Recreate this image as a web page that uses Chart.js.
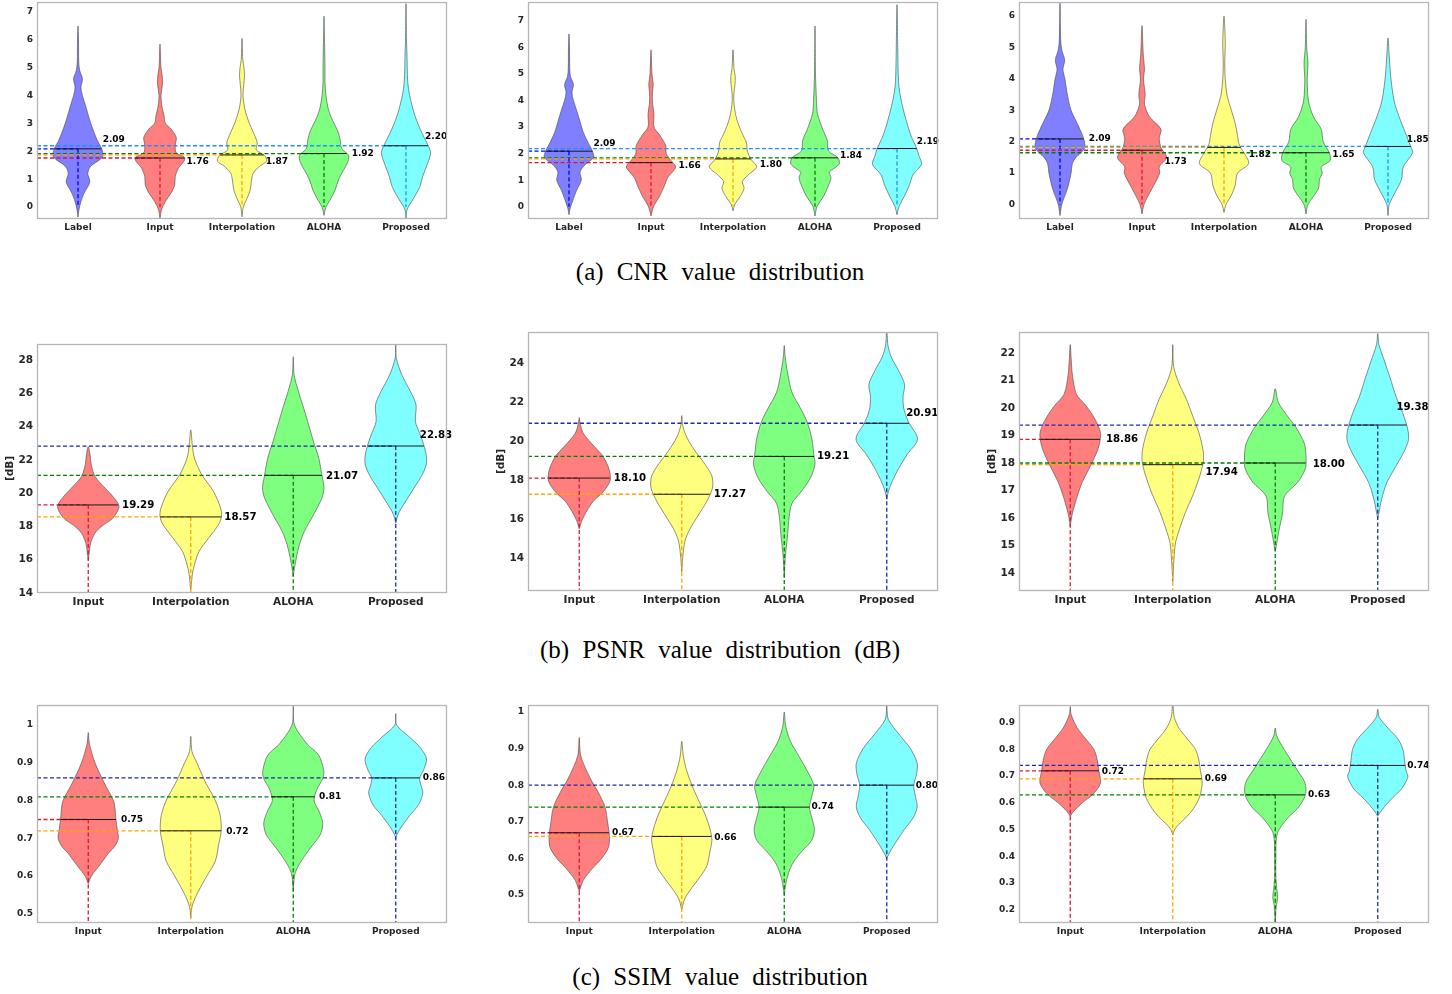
<!DOCTYPE html>
<html>
<head>
<meta charset="utf-8">
<script src="https://cdn.jsdelivr.net/npm/chart.js@4.4.1/dist/chart.umd.min.js"></script>
<style>
    html, body { margin: 0; padding: 0; background: #fff; width: 1452px; height: 994px; overflow: hidden; position: relative; }
    canvas { position: absolute; }
    .cap { position: absolute; left: 0; width: 1440px; text-align: center; font-family: "Liberation Serif", "Times New Roman", serif;
           font-size: 25px; line-height: 25px; word-spacing: 7px; color: #000; }
</style>
</head>
<body>
<div class="cap" style="top:259px">(a) CNR value distribution</div>
<div class="cap" style="top:637px">(b) PSNR value distribution (dB)</div>
<div class="cap" style="top:964px">(c) SSIM value distribution</div>
<script>
// categories
const cnrCats = ["Label", "Input", "Interpolation", "ALOHA", "Proposed"];
const qCats = ["Input", "Interpolation", "ALOHA", "Proposed"];

// medians (printed next to each violin)
const cnrMedA = [2.09, 1.76, 1.87, 1.92, 2.20];
const cnrMedB = [2.09, 1.66, 1.80, 1.84, 2.19];
const cnrMedC = [2.09, 1.73, 1.82, 1.65, 1.85];
const psnrMedA = [19.29, 18.57, 21.07, 22.83];
const psnrMedB = [18.10, 17.27, 19.21, 20.91];
const psnrMedC = [18.86, 17.94, 18.00, 19.38];
const ssimMedA = [0.75, 0.72, 0.81, 0.86];
const ssimMedB = [0.67, 0.66, 0.74, 0.80];
const ssimMedC = [0.72, 0.69, 0.63, 0.74];

// y tick labels
const cnrTicksA = [0, 1, 2, 3, 4, 5, 6, 7];
const cnrTicksB = [0, 1, 2, 3, 4, 5, 6, 7];
const cnrTicksC = [0, 1, 2, 3, 4, 5, 6];
const psnrTicksA = [14, 16, 18, 20, 22, 24, 26, 28];
const psnrTicksB = [14, 16, 18, 20, 22, 24];
const psnrTicksC = [14, 15, 16, 17, 18, 19, 20, 21, 22];
const ssimTicksA = [0.5, 0.6, 0.7, 0.8, 0.9, 1];
const ssimTicksB = [0.5, 0.6, 0.7, 0.8, 0.9, 1];
const ssimTicksC = [0.2, 0.3, 0.4, 0.5, 0.6, 0.7, 0.8, 0.9];

// violin profiles: [value, relative density width] from bottom tip to top tip
const cnrViolinsA = [
    [[-0.36,0],[-0.1,0.04],[0.2,0.12],[0.5,0.25],[0.9,0.48],[1.2,0.4],[1.45,0.5],[1.8,1.0],[2.1,0.96],[2.4,0.78],[2.8,0.6],[3.2,0.45],[3.6,0.32],[4.0,0.18],[4.3,0.12],[4.6,0.18],[4.9,0.07],[5.2,0.03],[6.0,0.02],[6.5,0]],
    [[-0.42,0],[-0.1,0.06],[0.2,0.22],[0.5,0.45],[0.8,0.6],[1.1,0.62],[1.4,0.75],[1.65,0.98],[1.78,1.0],[1.95,0.66],[2.2,0.62],[2.5,0.66],[2.8,0.45],[3.0,0.22],[3.3,0.16],[3.6,0.08],[4.0,0.04],[4.4,0.1],[4.7,0.09],[5.0,0.04],[5.4,0.02],[5.85,0]],
    [[-0.35,0],[0,0.05],[0.3,0.2],[0.6,0.33],[0.9,0.38],[1.2,0.45],[1.45,0.7],[1.65,1.0],[1.85,0.92],[2.05,0.58],[2.3,0.62],[2.6,0.5],[3.0,0.3],[3.5,0.12],[4.0,0.04],[4.4,0.07],[4.7,0.1],[5.0,0.08],[5.3,0.03],[6.05,0]],
    [[-0.3,0],[0,0.08],[0.3,0.28],[0.6,0.45],[1.0,0.6],[1.3,0.78],[1.6,0.96],[1.85,1.0],[2.1,0.72],[2.4,0.66],[2.75,0.55],[3.1,0.35],[3.5,0.18],[4.0,0.08],[4.5,0.04],[5.0,0.04],[5.6,0.03],[6.2,0.015],[6.85,0]],
    [[-0.42,0],[-0.1,0.04],[0.3,0.3],[0.7,0.55],[1.1,0.68],[1.5,0.85],[1.95,1.0],[2.3,0.85],[2.6,0.68],[3.0,0.48],[3.4,0.32],[4.0,0.15],[4.5,0.07],[5.0,0.05],[5.5,0.04],[6.0,0.02],[7.3,0]]
];
const cnrViolinsB = [
    [[-0.3,0],[-0.05,0.05],[0.3,0.18],[0.6,0.3],[1.0,0.5],[1.3,0.45],[1.55,0.62],[1.85,1.0],[2.1,0.95],[2.4,0.78],[2.8,0.58],[3.2,0.45],[3.6,0.32],[4.0,0.18],[4.3,0.12],[4.6,0.18],[4.9,0.06],[5.2,0.03],[6.0,0.02],[6.5,0]],
    [[-0.35,0],[0,0.1],[0.4,0.35],[0.8,0.55],[1.1,0.68],[1.5,1.0],[1.75,0.8],[2.0,0.62],[2.3,0.6],[2.7,0.35],[3.0,0.12],[3.5,0.12],[3.9,0.06],[4.3,0.06],[4.6,0.09],[5.0,0.04],[5.9,0]],
    [[-0.15,0],[0.1,0.08],[0.4,0.3],[0.7,0.45],[0.95,0.38],[1.2,0.62],[1.5,0.96],[1.8,0.72],[2.1,0.58],[2.4,0.55],[2.8,0.35],[3.3,0.15],[3.8,0.05],[4.2,0.03],[4.6,0.08],[4.9,0.09],[5.2,0.04],[5.9,0]],
    [[-0.35,0],[0,0.08],[0.4,0.35],[0.8,0.55],[1.1,0.65],[1.3,0.58],[1.6,0.98],[1.85,0.93],[2.1,0.55],[2.5,0.5],[2.9,0.32],[3.5,0.1],[4.0,0.06],[5.0,0.02],[6.8,0]],
    [[-0.3,0],[0,0.08],[0.4,0.3],[0.8,0.5],[1.2,0.65],[1.6,1.0],[1.9,0.9],[2.2,0.8],[2.6,0.6],[3.0,0.45],[3.5,0.3],[4.0,0.17],[4.5,0.08],[5.0,0.05],[6.0,0.03],[7.6,0]]
];
const cnrViolinsC = [
    [[-0.35,0],[0,0.07],[0.5,0.3],[1.0,0.45],[1.3,0.5],[1.5,0.65],[1.8,1.0],[2.1,0.96],[2.5,0.75],[3.0,0.45],[3.5,0.3],[4.0,0.2],[4.3,0.12],[4.6,0.19],[4.9,0.08],[5.2,0.03],[6.45,0]],
    [[-0.3,0],[0,0.08],[0.5,0.4],[1.0,0.72],[1.2,0.7],[1.5,1.0],[1.8,0.78],[2.1,0.7],[2.4,0.77],[2.8,0.3],[3.2,0.1],[3.5,0.13],[4.0,0.06],[4.3,0.1],[4.8,0.05],[5.7,0]],
    [[-0.25,0],[0,0.08],[0.3,0.3],[0.6,0.45],[1.0,0.55],[1.3,1.0],[1.6,0.85],[1.9,0.62],[2.2,0.55],[2.6,0.45],[3.0,0.3],[3.5,0.12],[4.0,0.05],[4.5,0.03],[5.2,0.05],[6.0,0]],
    [[-0.3,0],[0,0.08],[0.5,0.5],[0.8,0.55],[1.0,0.66],[1.2,0.62],[1.4,0.98],[1.65,0.95],[2.0,0.7],[2.4,0.62],[2.8,0.3],[3.3,0.1],[4.0,0.05],[4.5,0.08],[5.0,0.03],[5.9,0]],
    [[-0.35,0],[0,0.05],[0.4,0.3],[0.8,0.55],[1.2,0.62],[1.65,1.0],[1.85,0.92],[2.3,0.7],[2.8,0.45],[3.3,0.25],[4.0,0.12],[4.6,0.06],[5.3,0]]
];
const psnrViolinsA = [
    [[16.0,0],[16.4,0.03],[17.0,0.08],[17.6,0.22],[18.0,0.43],[18.5,0.8],[19.2,1.0],[19.8,0.8],[20.4,0.5],[21.0,0.22],[21.7,0.1],[22.3,0.06],[22.8,0]],
    [[14.2,0],[14.5,0.02],[15.1,0.05],[15.7,0.12],[16.5,0.27],[17.3,0.58],[18.1,0.9],[18.6,1.0],[19.1,0.97],[20.1,0.74],[21.1,0.36],[22.1,0.12],[22.9,0.05],[23.8,0]],
    [[15.0,0],[15.5,0.04],[16.1,0.1],[16.9,0.2],[17.7,0.36],[18.7,0.66],[19.7,0.93],[20.3,1.0],[21.1,0.93],[22.1,0.83],[23.1,0.66],[24.1,0.5],[25.1,0.34],[26.1,0.17],[27.1,0.03],[28.2,0]],
    [[18.2,0],[18.5,0.04],[18.9,0.12],[19.5,0.32],[20.3,0.59],[21.1,0.86],[21.8,1.0],[22.5,0.97],[23.5,0.8],[24.3,0.64],[25.3,0.66],[26.1,0.48],[27.1,0.2],[28.1,0.02],[28.9,0]]
];
const psnrViolinsB = [
    [[15.5,0],[15.9,0.08],[16.4,0.24],[16.9,0.45],[17.4,0.78],[17.95,1.0],[18.5,0.98],[19.2,0.78],[19.7,0.5],[20.4,0.13],[20.9,0.03],[21.2,0]],
    [[13.3,0],[14.0,0.03],[14.9,0.11],[15.5,0.27],[16.2,0.54],[16.9,0.81],[17.6,1.0],[18.2,0.98],[18.8,0.76],[19.5,0.43],[20.2,0.16],[20.8,0.03],[21.3,0]],
    [[13.0,0],[13.7,0.02],[14.3,0.05],[15.2,0.11],[16.1,0.16],[16.8,0.25],[17.4,0.55],[18.1,0.85],[18.8,1.0],[19.3,0.96],[20.1,0.9],[21.0,0.74],[21.7,0.52],[22.5,0.25],[23.4,0.12],[24.3,0.03],[24.9,0]],
    [[17.0,0],[17.4,0.05],[17.9,0.17],[18.6,0.39],[19.3,0.66],[20.1,1.0],[21.0,0.7],[21.7,0.55],[22.3,0.53],[22.9,0.58],[23.6,0.39],[24.3,0.15],[24.9,0.04],[25.7,0]]
];
const psnrViolinsC = [
    [[15.7,0],[16.0,0.04],[16.3,0.1],[16.8,0.23],[17.3,0.39],[17.9,0.66],[18.5,0.9],[19.0,0.99],[19.3,0.93],[19.7,0.75],[20.1,0.5],[20.5,0.2],[21.2,0.07],[21.8,0.03],[22.3,0]],
    [[13.7,0],[14.5,0.04],[15.1,0.09],[15.6,0.22],[16.2,0.41],[16.9,0.68],[17.6,0.9],[18.1,1.0],[18.5,0.98],[19.1,0.85],[19.7,0.65],[20.3,0.45],[20.9,0.2],[21.5,0.03],[22.3,0]],
    [[14.8,0],[15.1,0.05],[15.6,0.13],[16.2,0.24],[16.8,0.3],[17.3,0.73],[17.8,0.98],[18.2,1.0],[18.7,0.95],[19.3,0.67],[19.7,0.4],[20.2,0.1],[20.7,0]],
    [[16.0,0],[16.2,0.04],[16.7,0.13],[17.3,0.3],[17.9,0.6],[18.45,0.87],[18.85,1.0],[19.2,0.98],[19.8,0.82],[20.4,0.6],[21.1,0.4],[21.7,0.22],[22.3,0.04],[22.7,0]]
];
const ssimViolinsA = [
    [[0.58,0],[0.60,0.1],[0.63,0.38],[0.66,0.65],[0.68,0.87],[0.70,0.98],[0.72,0.95],[0.75,0.9],[0.78,0.87],[0.80,0.82],[0.85,0.5],[0.90,0.22],[0.95,0.04],[0.98,0]],
    [[0.49,0],[0.51,0.02],[0.53,0.08],[0.56,0.25],[0.60,0.52],[0.64,0.8],[0.68,0.9],[0.72,0.99],[0.76,0.96],[0.80,0.8],[0.85,0.47],[0.90,0.2],[0.93,0.04],[0.97,0]],
    [[0.56,0],[0.60,0.04],[0.62,0.12],[0.65,0.34],[0.68,0.61],[0.71,0.88],[0.74,0.96],[0.77,0.85],[0.80,0.68],[0.83,0.77],[0.86,0.97],[0.88,0.99],[0.92,0.83],[0.95,0.45],[1.0,0.04],[1.05,0]],
    [[0.70,0],[0.71,0.04],[0.73,0.18],[0.76,0.45],[0.79,0.75],[0.82,0.88],[0.84,0.82],[0.86,0.78],[0.88,0.9],[0.91,1.0],[0.94,0.8],[0.97,0.42],[1.0,0.03],[1.03,0]]
];
const ssimViolinsB = [
    [[0.51,0],[0.52,0.04],[0.54,0.13],[0.57,0.4],[0.60,0.73],[0.63,0.95],[0.66,0.98],[0.70,0.92],[0.74,0.84],[0.78,0.62],[0.82,0.35],[0.88,0.05],[0.93,0]],
    [[0.46,0],[0.49,0.1],[0.52,0.33],[0.55,0.6],[0.58,0.82],[0.62,0.92],[0.65,0.98],[0.68,0.92],[0.72,0.76],[0.76,0.54],[0.80,0.33],[0.84,0.16],[0.88,0.05],[0.92,0]],
    [[0.50,0],[0.53,0.05],[0.56,0.14],[0.59,0.3],[0.62,0.58],[0.65,0.9],[0.68,0.98],[0.71,0.9],[0.74,0.82],[0.77,0.9],[0.80,0.96],[0.84,0.74],[0.88,0.47],[0.92,0.2],[0.96,0.05],[1.0,0]],
    [[0.60,0],[0.62,0.12],[0.65,0.34],[0.68,0.58],[0.71,0.85],[0.74,0.99],[0.77,0.93],[0.80,0.88],[0.83,0.97],[0.86,0.99],[0.90,0.77],[0.94,0.39],[0.98,0.05],[1.02,0]]
];
const ssimViolinsC = [
    [[0.55,0],[0.57,0.12],[0.60,0.39],[0.63,0.72],[0.66,0.93],[0.68,0.99],[0.72,0.93],[0.76,0.88],[0.80,0.77],[0.84,0.5],[0.88,0.23],[0.93,0.03],[0.96,0]],
    [[0.48,0],[0.50,0.06],[0.52,0.2],[0.55,0.47],[0.58,0.68],[0.62,0.87],[0.65,0.93],[0.68,0.96],[0.72,0.9],[0.76,0.85],[0.80,0.74],[0.84,0.47],[0.88,0.2],[0.92,0.05],[0.97,0]],
    [[0.15,0],[0.18,0.01],[0.22,0.04],[0.245,0.08],[0.28,0.05],[0.32,0.02],[0.40,0.02],[0.46,0.03],[0.49,0.08],[0.52,0.24],[0.55,0.46],[0.58,0.73],[0.62,0.95],[0.65,1.0],[0.68,0.95],[0.72,0.73],[0.76,0.51],[0.80,0.29],[0.85,0.05],[0.88,0]],
    [[0.55,0],[0.56,0.05],[0.59,0.25],[0.62,0.49],[0.65,0.76],[0.68,0.92],[0.70,0.98],[0.72,0.92],[0.76,0.87],[0.80,0.82],[0.84,0.65],[0.88,0.33],[0.92,0.05],[0.95,0]]
];

// styling
const HALF = 0.3;   // half width of the widest part of a violin, in category units
const fillColors = { Label: "rgba(0,0,255,0.5)", Input: "rgba(255,0,0,0.5)", Interpolation: "rgba(255,255,0,0.5)", ALOHA: "rgba(0,255,0,0.5)", Proposed: "rgba(0,255,255,0.5)" };
const lineColors = { Label: "#0000ff", Input: "#dc143c", Interpolation: "#ffa500", ALOHA: "#008000", Proposed: "#1e2aa8" };
const TICK_COLOR = "#262626";

const panels = [
    { violins: cnrViolinsA, med: cnrMedA, cats: cnrCats, ticks: cnrTicksA, box: [37, 2, 447, 219], yr: [-0.43, 7.36], vb: 0, fs: 9, vs: 9, proposed: "#1e90ff",
      nudge: [[1,-9],[2,4],[2,7],[5,0],[-3,-9]] },
    { violins: cnrViolinsB, med: cnrMedB, cats: cnrCats, ticks: cnrTicksB, box: [528, 2, 938, 219], yr: [-0.46, 7.7], vb: 0, fs: 9, vs: 9, proposed: "#1e90ff",
      nudge: [[1,-8],[6,3],[9,6],[2,-2],[0,-7]] },
    { violins: cnrViolinsC, med: cnrMedC, cats: cnrCats, ticks: cnrTicksC, box: [1019, 2, 1429, 219], yr: [-0.46, 6.45], vb: 0, fs: 9, vs: 9, proposed: "#1e90ff",
      nudge: [[5,0],[2,11],[8,7],[3,2],[-4,-7]] },
    { violins: psnrViolinsA, med: psnrMedA, cats: qCats, ticks: psnrTicksA, box: [37, 344, 447, 593], yr: [14, 28.96], vb: null, fs: 10.5, vs: 10.2, title: "[dB]",
      nudge: [[4,0],[3,0],[4,1],[-4,-11]] },
    { violins: psnrViolinsB, med: psnrMedB, cats: qCats, ticks: psnrTicksB, box: [528, 332, 938, 591], yr: [12.31, 25.59], vb: null, fs: 10.5, vs: 10.2, title: "[dB]",
      nudge: [[4,0],[4,0],[3,0],[-3,-10]] },
    { violins: psnrViolinsC, med: psnrMedC, cats: qCats, ticks: psnrTicksC, box: [1019, 332, 1429, 591], yr: [13.35, 22.76], vb: null, fs: 10.5, vs: 10.2, title: "[dB]",
      nudge: [[6,0],[3,8],[7,1],[-10,-18]] },
    { violins: ssimViolinsA, med: ssimMedA, cats: qCats, ticks: ssimTicksA, box: [37, 705, 447, 923], yr: [0.476, 1.053], vb: null, fs: 9, vs: 9,
      nudge: [[5,0],[5,1],[4,0],[3,0]] },
    { violins: ssimViolinsB, med: ssimMedB, cats: qCats, ticks: ssimTicksB, box: [528, 705, 938, 923], yr: [0.4235, 1.019], vb: null, fs: 9, vs: 9,
      nudge: [[3,0],[3,1],[2,0],[2,0]] },
    { violins: ssimViolinsC, med: ssimMedC, cats: qCats, ticks: ssimTicksC, box: [1019, 705, 1429, 923], yr: [0.151, 0.966], vb: null, fs: 9, vs: 9,
      nudge: [[3,1],[3,0],[3,0],[2,0]] }
];

const YW = 37, XH = 24, PT = 6, PR = 40;

function widthAt(prof, v) {
    for (let k = 1; k < prof.length; k++) {
        const [y0, w0] = prof[k - 1];
        const [y1, w1] = prof[k];
        if (v >= y0 && v <= y1) return w0 + (w1 - w0) * (v - y0) / (y1 - y0);
    }
    return 0;
}

function outline(prof, c) {
    const right = prof.map(([y, w]) => ({ x: c + w * HALF, y: y }));
    const left = prof.slice(0, -1).reverse().map(([y, w]) => ({ x: c - w * HALF, y: y }));
    return right.concat(left);
}

const framePlugin = {
    id: "frame",
    afterDraw(chart) {
        const a = chart.chartArea;
        const ctx = chart.ctx;
        ctx.save();
        ctx.strokeStyle = "#b5b5b5";
        ctx.lineWidth = 1.3;
        ctx.strokeRect(a.left + 0.5, a.top + 0.5, a.right - a.left - 1, a.bottom - a.top - 1);
        ctx.restore();
    }
};

const labelPlugin = {
    id: "vlabels",
    afterDatasetsDraw(chart, args, opts) {
        const ctx = chart.ctx;
        const xs = chart.scales.x, ys = chart.scales.y;
        ctx.save();
        ctx.font = "bold " + opts.size + "px 'DejaVu Sans'";
        ctx.fillStyle = "#000";
        ctx.textAlign = "left";
        ctx.textBaseline = "middle";
        opts.med.forEach((m, i) => {
            const w = widthAt(opts.violins[i], m) * HALF;
            const px = xs.getPixelForValue(i + w) + opts.nudge[i][0];
            const py = ys.getPixelForValue(m) + opts.nudge[i][1];
            ctx.fillText(m.toFixed(2), px, py);
        });
        ctx.restore();
    }
};

panels.forEach(p => {
    const [L, T, R, B] = p.box;
    const canvas = document.createElement("canvas");
    canvas.width = (R - L) + YW + PR;
    canvas.height = (B - T) + PT + XH;
    canvas.style.left = (L - YW) + "px";
    canvas.style.top = (T - PT) + "px";
    document.body.appendChild(canvas);

    const yMin = p.yr[0];
    const vBottom = p.vb === null ? yMin : p.vb;
    const datasets = [];
    p.cats.forEach((cat, i) => {
        const m = p.med[i];
        const wm = widthAt(p.violins[i], m) * HALF;
        const lc = (cat === "Proposed" && p.proposed) ? p.proposed : lineColors[cat];
        datasets.push({
            data: outline(p.violins[i], i),
            fill: "shape",
            backgroundColor: fillColors[cat],
            borderColor: "rgba(70,70,70,0.85)",
            borderWidth: 0.7,
            tension: 0.3,
            pointRadius: 0,
            order: 3
        });
        datasets.push({
            data: [{ x: -0.5, y: m }, { x: i, y: m }],
            borderColor: lc, borderWidth: 1.3, borderDash: [4, 2.5], pointRadius: 0, order: 2
        });
        datasets.push({
            data: [{ x: i, y: m }, { x: i, y: vBottom }],
            borderColor: lc, borderWidth: 1.3, borderDash: [4, 2.5], pointRadius: 0, order: 2
        });
        datasets.push({
            data: [{ x: i - wm, y: m }, { x: i + wm, y: m }],
            borderColor: "#1a1a1a", borderWidth: 1, pointRadius: 0, order: 1
        });
    });

    const tickFont = { family: "'DejaVu Sans'", weight: "bold", size: p.fs };

    new Chart(canvas, {
        type: "line",
        data: { datasets: datasets },
        options: {
            responsive: false,
            animation: false,
            events: [],
            layout: { padding: { top: PT, right: PR, left: 0, bottom: 0 } },
            plugins: {
                legend: { display: false },
                tooltip: { enabled: false },
                vlabels: { med: p.med, violins: p.violins, nudge: p.nudge, size: p.vs }
            },
            scales: {
                x: {
                    type: "linear",
                    min: -0.5,
                    max: p.cats.length - 0.5,
                    grid: { display: false, drawTicks: false },
                    border: { display: false },
                    ticks: { font: tickFont, color: TICK_COLOR, padding: 3, autoSkip: false, maxRotation: 0,
                             callback: v => p.cats[v] },
                    afterBuildTicks: s => { s.ticks = p.cats.map((c, i) => ({ value: i })); },
                    afterFit: s => { s.height = XH; s.paddingLeft = 0; s.paddingRight = 0; }
                },
                y: {
                    type: "linear",
                    min: p.yr[0],
                    max: p.yr[1],
                    grid: { display: false, drawTicks: false },
                    border: { display: false },
                    title: { display: !!p.title, text: p.title || "", color: TICK_COLOR,
                             font: { family: "'DejaVu Sans'", weight: "bold", size: 10.5 }, padding: { top: 4, bottom: 0 } },
                    ticks: { font: tickFont, color: TICK_COLOR, padding: 4, autoSkip: false,
                             callback: v => String(v) },
                    afterBuildTicks: s => { s.ticks = p.ticks.map(v => ({ value: v })); },
                    afterFit: s => { s.width = YW; s.paddingTop = 0; s.paddingBottom = 0; }
                }
            }
        },
        plugins: [framePlugin, labelPlugin]
    });
});
</script>
</body>
</html>
